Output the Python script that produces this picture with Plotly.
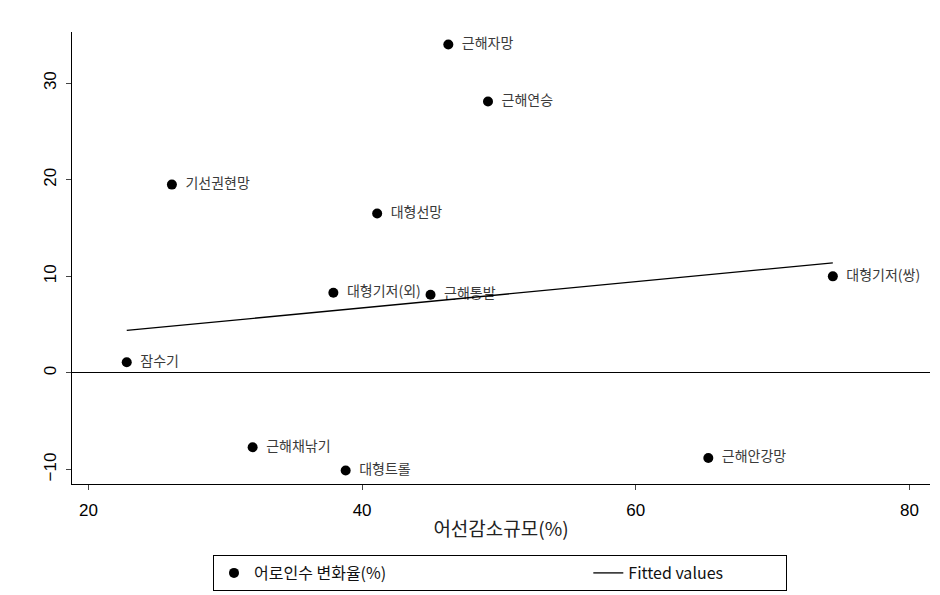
import plotly.graph_objects as go

# Fleet-reduction scale (%) vs change in number of fishermen (%) by fishery
fisheries = ["근해자망", "근해연승", "기선권현망", "대형선망", "대형기저(외)", "근해통발",
             "대형기저(쌍)", "잠수기", "근해채낚기", "대형트롤", "근해안강망"]
reduction_pct = [46.3, 49.2, 26.1, 41.1, 37.9, 45.0, 74.4, 22.8, 32.0, 38.8, 65.3]
worker_change_pct = [34.0, 28.1, 19.5, 16.5, 8.3, 8.1, 10.0, 1.1, -7.7, -10.1, -8.8]

# Linear fit evaluated at the ends of the x range
fit_x = [min(reduction_pct), max(reduction_pct)]
fit_y = [4.4, 11.4]

x_ticks = [20, 40, 60, 80]
y_ticks = [-10, 0, 10, 20, 30]

NBSP = "\u00a0"

fig = go.Figure()

fig.add_trace(go.Scatter(
    x=reduction_pct, y=worker_change_pct,
    text=[NBSP * 2 + name for name in fisheries],
    mode="markers+text", textposition="middle right",
    marker=dict(color="black", size=10),
    textfont=dict(family="Noto Sans CJK KR", size=14, color="#3a3a3a"),
    name="어로인수 변화율(%)" + NBSP * 55,
))

fig.add_trace(go.Scatter(
    x=fit_x, y=fit_y, mode="lines",
    line=dict(color="black", width=1.3),
    name="Fitted values" + NBSP * 16,
))

axis_font = dict(family="Liberation Sans, Arial", size=17, color="black")

fig.update_layout(
    width=940, height=595,
    margin=dict(l=72, r=10, t=32, b=111),
    paper_bgcolor="white", plot_bgcolor="white",
    font=dict(family="Liberation Sans, Noto Sans CJK KR", color="black"),
    xaxis=dict(
        range=[18.8, 81.5], tickvals=x_ticks, ticks="outside", ticklen=5,
        ticklabelstandoff=6,
        showline=True, linecolor="black", linewidth=1, showgrid=False,
        zeroline=False, tickfont=axis_font,
        title=dict(text="어선감소규모(%)", standoff=3,
                   font=dict(family="Noto Sans CJK KR", size=19, color="#222")),
    ),
    yaxis=dict(
        range=[-11.5, 35.3], tickvals=y_ticks, ticks="outside", ticklen=5,
        ticklabelstandoff=3,
        showline=True, linecolor="black", linewidth=1, showgrid=False,
        zeroline=True, zerolinecolor="black", zerolinewidth=1.3,
        tickangle=-90, tickfont=axis_font,
    ),
    legend=dict(
        orientation="h", xref="container", yref="container",
        x=213 / 940, y=1 - 555 / 595, xanchor="left", yanchor="top",
        bordercolor="black", borderwidth=1, bgcolor="white",
        font=dict(family="Noto Sans CJK KR, Liberation Sans", size=16, color="#111"),
    ),
)

fig.write_html("out.html")
